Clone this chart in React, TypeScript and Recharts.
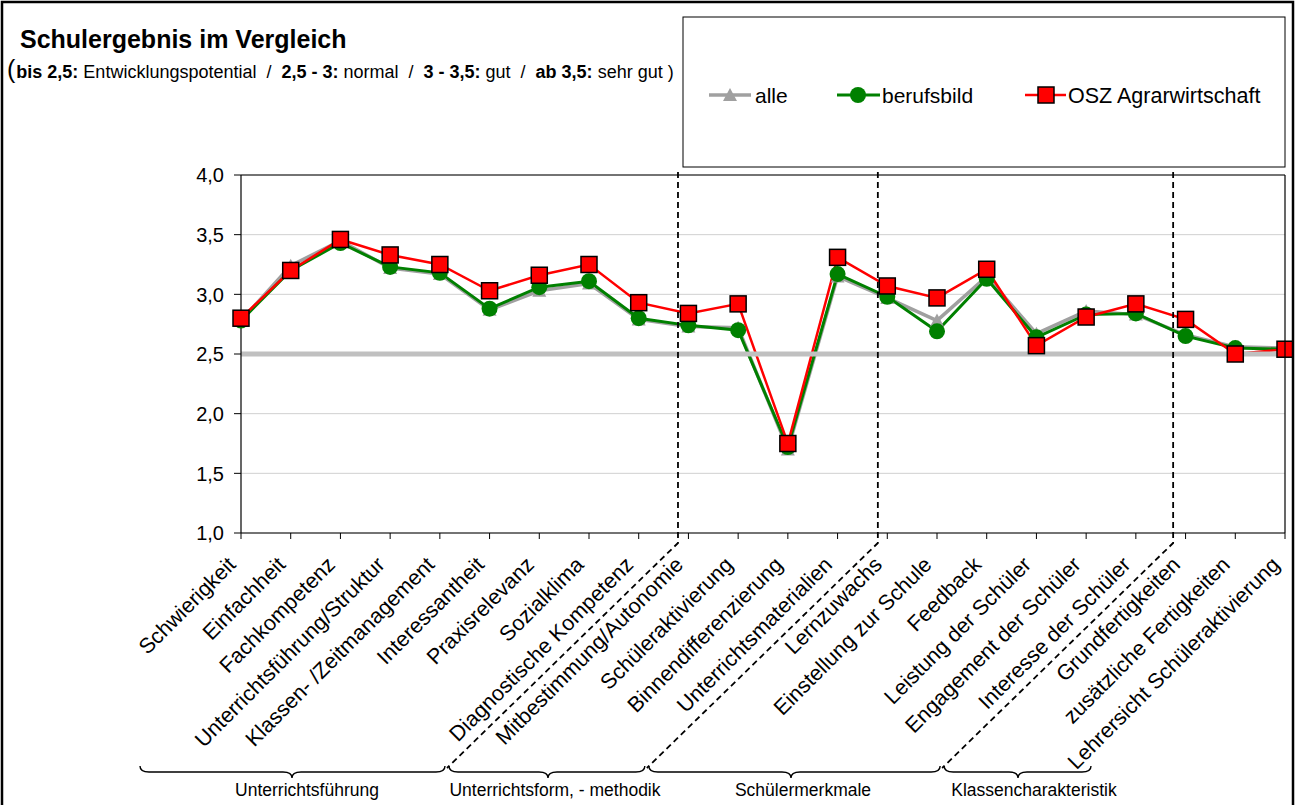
import React from "react";
import {
  LineChart,
  Line,
  XAxis,
  YAxis,
  CartesianGrid,
  ReferenceLine,
} from "recharts";

// Kategorien (x-Achse)
const categories = [
  "Schwierigkeit",
  "Einfachheit",
  "Fachkompetenz",
  "Unterrichtsführung/Struktur",
  "Klassen- /Zeitmanagement",
  "Interessantheit",
  "Praxisrelevanz",
  "Sozialklima",
  "Diagnostische Kompetenz",
  "Mitbestimmung/Autonomie",
  "Schüleraktivierung",
  "Binnendifferenzierung",
  "Unterrichtsmaterialien",
  "Lernzuwachs",
  "Einstellung zur Schule",
  "Feedback",
  "Leistung der Schüler",
  "Engagement der Schüler",
  "Interesse der Schüler",
  "Grundfertigkeiten",
  "zusätzliche Fertigkeiten",
  "Lehrersicht Schüleraktivierung",
];

const alle = [2.78, 3.24, 3.45, 3.22, 3.17, 2.87, 3.03, 3.09, 2.79, 2.73, 2.72, 1.70, 3.15, 2.97, 2.78, 3.15, 2.67, 2.86, 2.83, 2.66, 2.56, 2.55];
const berufsbild = [2.78, 3.20, 3.43, 3.23, 3.18, 2.88, 3.06, 3.11, 2.80, 2.74, 2.70, 1.72, 3.17, 2.98, 2.69, 3.13, 2.64, 2.83, 2.84, 2.65, 2.55, 2.54];
const osz = [2.80, 3.20, 3.46, 3.33, 3.25, 3.03, 3.16, 3.25, 2.93, 2.84, 2.92, 1.75, 3.31, 3.07, 2.97, 3.21, 2.57, 2.81, 2.92, 2.79, 2.50, 2.54];

const yTicks = [1.0, 1.5, 2.0, 2.5, 3.0, 3.5, 4.0];
const threshold = 2.5;

// Gruppen unter der Achse (Trennlinien liegen zwischen den Kategorien)
const separators = [8.79, 12.81, 18.75];
const groups = ["Unterrichtsführung", "Unterrichtsform, - methodik", "Schülermerkmale", "Klassencharakteristik"];

const data = categories.map((name, i) => ({
  idx: i,
  name,
  alle: alle[i],
  berufsbild: berufsbild[i],
  osz: osz[i],
}));

const W = 1295;
const H = 805;
const PLOT_LEFT = 241;
const PLOT_RIGHT = 1285;
const PLOT_TOP = 175;
const PLOT_BOTTOM = 533;
const Y_AXIS_W = 60;
const X_AXIS_H = 30;
const STEP = (PLOT_RIGHT - PLOT_LEFT) / (categories.length - 1);
const FONT = "'Liberation Sans', Arial, sans-serif";

const GRAY = "#a0a0a0";
const GREEN = "#008000";
const RED = "#ff0000";

const xOf = (i: number) => PLOT_LEFT + i * STEP;

const Triangle = (props: any) => {
  const { cx, cy } = props;
  if (cx == null || cy == null) return null;
  return <path d={`M${cx},${cy - 7} L${cx + 7},${cy + 6} L${cx - 7},${cy + 6} Z`} fill={GRAY} />;
};

const Circle = (props: any) => {
  const { cx, cy } = props;
  if (cx == null || cy == null) return null;
  return <circle cx={cx} cy={cy} r={8} fill={GREEN} />;
};

const Square = (props: any) => {
  const { cx, cy } = props;
  if (cx == null || cy == null) return null;
  return <rect x={cx - 8} y={cy - 8} width={16} height={16} fill={RED} stroke="#000" strokeWidth={1.5} />;
};

const XTick = (props: any) => {
  const { x, y, payload } = props;
  const label = categories[payload.value] ?? "";
  const ax = x - 4;
  const ay = y + 25;
  return (
    <text
      x={ax}
      y={ay}
      textAnchor="end"
      transform={`rotate(-45, ${ax}, ${ay})`}
      fontFamily={FONT}
      fontSize={21.5}
      fill="#000"
    >
      {label}
    </text>
  );
};

const YTick = (props: any) => {
  const { x, y, payload } = props;
  return (
    <text x={x} y={y} dy="0.36em" textAnchor="end" fontFamily={FONT} fontSize={20} fill="#000">
      {Number(payload.value).toFixed(1).replace(".", ",")}
    </text>
  );
};

const brace = (x1: number, x2: number, tip: number, y: number) =>
  `M${x1},${y - 6} Q${x1},${y} ${x1 + 9},${y} L${tip - 9},${y} Q${tip},${y} ${tip},${y + 6} ` +
  `Q${tip},${y} ${tip + 9},${y} L${x2 - 9},${y} Q${x2},${y} ${x2},${y - 6}`;

export default function App() {
  const sepX = separators.map(xOf);
  const DIAG = 231;
  const braceY = 772;
  const bounds = [140, ...sepX.map((s) => s - DIAG), 1093];
  const tips = [292, 548, 791, 1018];
  const labelX = [307, 555, 803, 1034];

  return (
    <div style={{ position: "relative", width: W, height: H, background: "#fff", overflow: "hidden" }}>
      <style>{"body{margin:0}"}</style>
      <LineChart
        width={W}
        height={H}
        data={data}
        margin={{
          top: PLOT_TOP,
          right: W - PLOT_RIGHT,
          bottom: H - PLOT_BOTTOM - X_AXIS_H,
          left: PLOT_LEFT - Y_AXIS_W,
        }}
      >
        <CartesianGrid vertical={false} stroke="#d0d0d0" strokeWidth={1} />
        <XAxis
          type="number"
          dataKey="idx"
          domain={[0, categories.length - 1]}
          ticks={categories.map((_, i) => i)}
          interval={0}
          height={X_AXIS_H}
          tick={<XTick />}
          tickLine={{ stroke: "#000" }}
          tickSize={6}
          axisLine={{ stroke: "#000", strokeWidth: 1.2 }}
        />
        <YAxis
          type="number"
          domain={[1, 4]}
          ticks={yTicks}
          width={Y_AXIS_W}
          tick={<YTick />}
          tickLine={{ stroke: "#000" }}
          tickSize={7}
          tickMargin={10}
          axisLine={{ stroke: "#000", strokeWidth: 1.2 }}
        />
        <Line
          dataKey="alle"
          stroke={GRAY}
          strokeWidth={3.5}
          dot={<Triangle />}
          activeDot={false}
          isAnimationActive={false}
        />
        <Line
          dataKey="berufsbild"
          stroke={GREEN}
          strokeWidth={3}
          dot={<Circle />}
          activeDot={false}
          isAnimationActive={false}
        />
        <Line
          dataKey="osz"
          stroke={RED}
          strokeWidth={2.5}
          dot={<Square />}
          activeDot={false}
          isAnimationActive={false}
        />
        <ReferenceLine y={threshold} stroke="#c0c0c0" strokeWidth={5} />
      </LineChart>

      <svg
        width={W}
        height={H}
        style={{ position: "absolute", left: 0, top: 0, pointerEvents: "none", whiteSpace: "pre" }}
        fontFamily={FONT}
      >
        {/* Rahmen */}
        <rect x={2} y={2} width={W - 4} height={H + 10} fill="none" stroke="#000" strokeWidth={2.5} />
        <line x1={PLOT_LEFT} y1={PLOT_TOP} x2={PLOT_RIGHT} y2={PLOT_TOP} stroke="#000" strokeWidth={1.2} />
        <line x1={PLOT_RIGHT} y1={PLOT_TOP} x2={PLOT_RIGHT} y2={PLOT_BOTTOM} stroke="#000" strokeWidth={1.2} />

        {/* Titel */}
        <text x={20} y={48} fontSize={25} fontWeight="bold" fill="#000">
          Schulergebnis im Vergleich
        </text>
        <text x={7} y={78} fill="#000" xmlSpace="preserve">
          <tspan fontSize={25}>(</tspan>
          <tspan fontSize={18} fontWeight="bold" dx={1}>bis 2,5:</tspan>
          <tspan fontSize={18}> Entwicklungspotential  /  </tspan>
          <tspan fontSize={18} fontWeight="bold">2,5 - 3:</tspan>
          <tspan fontSize={18}> normal  /  </tspan>
          <tspan fontSize={18} fontWeight="bold">3 - 3,5:</tspan>
          <tspan fontSize={18}> gut  /  </tspan>
          <tspan fontSize={18} fontWeight="bold">ab 3,5:</tspan>
          <tspan fontSize={18}> sehr gut )</tspan>
        </text>

        {/* Legende */}
        <rect x={683} y={17} width={602} height={150} fill="#fff" stroke="#000" strokeWidth={1} />
        <g>
          <line x1={709} y1={95} x2={751} y2={95} stroke={GRAY} strokeWidth={3.5} />
          <Triangle cx={730} cy={95} />
          <text x={755} y={103} fontSize={21} fill="#000">alle</text>
          <line x1={837} y1={95} x2={880} y2={95} stroke={GREEN} strokeWidth={3} />
          <Circle cx={858} cy={95} />
          <text x={882} y={103} fontSize={21} fill="#000">berufsbild</text>
          <line x1={1025} y1={95} x2={1066} y2={95} stroke={RED} strokeWidth={2.5} />
          <Square cx={1046} cy={95} />
          <text x={1068} y={103} fontSize={21.5} fill="#000">OSZ Agrarwirtschaft</text>
        </g>

        {/* Trennlinien der Gruppen */}
        {sepX.map((x, i) => (
          <path
            key={i}
            d={`M${x},${PLOT_TOP - 3} L${x},${PLOT_BOTTOM + 10} L${x - DIAG},${braceY - 4}`}
            fill="none"
            stroke="#000"
            strokeWidth={1.8}
            strokeDasharray="6 4"
          />
        ))}

        {/* Klammern und Gruppennamen */}
        {groups.map((g, i) => (
          <g key={g}>
            <path
              d={brace(bounds[i] + (i ? 2 : 0), bounds[i + 1] - 2, tips[i], braceY)}
              fill="none"
              stroke="#000"
              strokeWidth={1.4}
            />
            <text x={labelX[i]} y={796} fontSize={17.5} textAnchor="middle" fill="#000">
              {g}
            </text>
          </g>
        ))}
      </svg>
    </div>
  );
}
